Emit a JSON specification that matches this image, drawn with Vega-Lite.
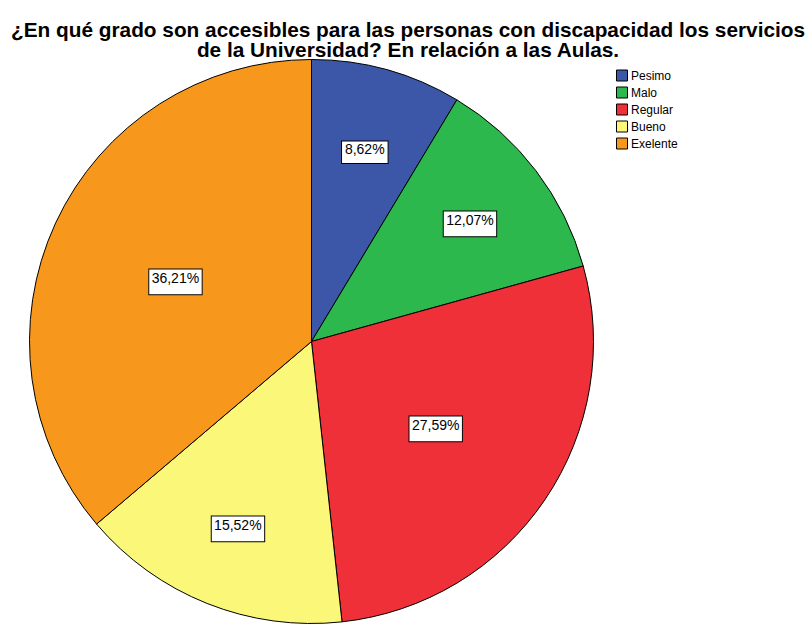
{
  "$schema": "https://vega.github.io/schema/vega-lite/v6.json",
  "width": 564,
  "height": 564,
  "autosize": {"type": "none"},
  "padding": {"left": 29.5, "top": 59.5, "right": 216.5, "bottom": 10.5},
  "background": "white",
  "title": {
    "text": ["¿En qué grado son accesibles para las personas con discapacidad los servicios", "de la Universidad? En relación a las Aulas."],
    "font": "Liberation Sans",
    "fontSize": 20.8,
    "fontWeight": "bold",
    "color": "black",
    "anchor": "middle",
    "dx": 96.5,
    "lineHeight": 20,
    "offset": -4
  },
  "data": {
    "values": [
      {"categoria": "Pesimo", "porcentaje": 8.62, "etiqueta": "8,62%", "orden": 1},
      {"categoria": "Malo", "porcentaje": 12.07, "etiqueta": "12,07%", "orden": 2},
      {"categoria": "Regular", "porcentaje": 27.59, "etiqueta": "27,59%", "orden": 3},
      {"categoria": "Bueno", "porcentaje": 15.52, "etiqueta": "15,52%", "orden": 4},
      {"categoria": "Exelente", "porcentaje": 36.21, "etiqueta": "36,21%", "orden": 5}
    ]
  },
  "encoding": {
    "theta": {"field": "porcentaje", "type": "quantitative", "stack": true},
    "order": {"field": "orden", "type": "quantitative"}
  },
  "layer": [
    {
      "mark": {"type": "arc", "stroke": "black", "strokeWidth": 1},
      "encoding": {
        "color": {
          "field": "categoria",
          "type": "nominal",
          "scale": {
            "domain": ["Pesimo", "Malo", "Regular", "Bueno", "Exelente"],
            "range": ["#3c56a8", "#2db84d", "#ef3038", "#fbf778", "#f7981d"]
          },
          "legend": {
            "orient": "none",
            "legendX": 586.5,
            "legendY": 10,
            "title": null,
            "symbolType": "square",
            "symbolSize": 121,
            "symbolStrokeColor": "black",
            "symbolStrokeWidth": 1,
            "symbolOpacity": 1,
            "labelFont": "Liberation Sans",
            "labelFontSize": 12,
            "labelColor": "black",
            "labelOffset": 3,
            "rowPadding": 1,
            "padding": 0
          }
        }
      }
    },
    {
      "mark": {
        "type": "text",
        "font": "DejaVu Sans",
        "fill": "white",
        "stroke": "black",
        "strokeWidth": 1,
        "align": "center",
        "baseline": "middle"
      },
      "encoding": {
        "text": {"value": "▬"},
        "size": {"condition": {"test": "length(datum.etiqueta) > 5", "value": 70}, "value": 61},
        "radius": {"field": "porcentaje", "type": "quantitative", "scale": {"type": "linear", "domain": [15.52, 27.59], "range": [199, 150], "clamp": true, "zero": false}, "legend": null}
      }
    },
    {
      "mark": {
        "type": "text",
        "font": "Liberation Sans",
        "fontSize": 14,
        "color": "black",
        "align": "center",
        "baseline": "middle"
      },
      "encoding": {
        "text": {"field": "etiqueta"},
        "radius": {"field": "porcentaje", "type": "quantitative", "scale": {"type": "linear", "domain": [15.52, 27.59], "range": [199, 150], "clamp": true, "zero": false}, "legend": null}
      }
    }
  ]
}
